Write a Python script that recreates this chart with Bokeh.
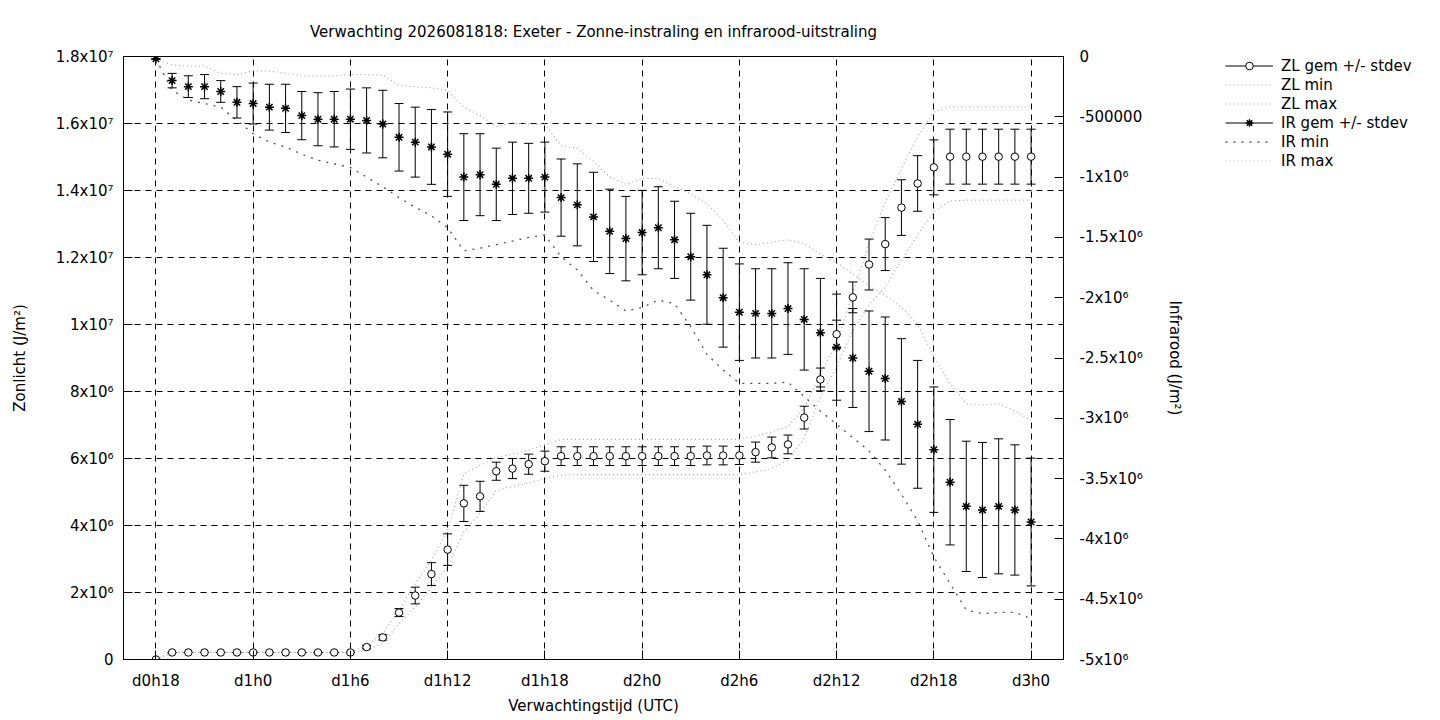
from bokeh.plotting import figure
from bokeh.layouts import row
from bokeh.models import (ColumnDataSource, LinearAxis, Range1d, FixedTicker,
                          Legend, LegendItem)
from bokeh.embed import file_html
from bokeh.resources import INLINE

# ---------------- data (values in units of 1e6 J/m2) ----------------
SCALE = 1e6
uren = list(range(55))  # forecast hour index, 0 = d0h18

x_tick_pos = [0, 6, 12, 18, 24, 30, 36, 42, 48, 54]
x_tick_labels = ["d0h18", "d1h0", "d1h6", "d1h12", "d1h18",
                 "d2h0", "d2h6", "d2h12", "d2h18", "d3h0"]

zl_tick_pos = [0, 2000000, 4000000, 6000000, 8000000, 10000000,
               12000000, 14000000, 16000000, 18000000]
zl_tick_labels = ["0", "2x10\u2076", "4x10\u2076", "6x10\u2076", "8x10\u2076",
                  "1x10\u2077", "1.2x10\u2077", "1.4x10\u2077", "1.6x10\u2077",
                  "1.8x10\u2077"]

ir_tick_pos = [0, -500000, -1000000, -1500000, -2000000, -2500000,
               -3000000, -3500000, -4000000, -4500000, -5000000]
ir_tick_labels = ["0", "-500000", "-1x10\u2076", "-1.5x10\u2076", "-2x10\u2076",
                  "-2.5x10\u2076", "-3x10\u2076", "-3.5x10\u2076", "-4x10\u2076",
                  "-4.5x10\u2076", "-5x10\u2076"]

zl_gem = [0.00,
          0.21, 0.21, 0.21, 0.21, 0.21, 0.21, 0.21, 0.21, 0.21, 0.21, 0.21, 0.21,
          0.37, 0.66, 1.40, 1.91, 2.55, 3.28, 4.66, 4.87, 5.62, 5.70, 5.83, 5.92,
          6.07, 6.07, 6.07, 6.07, 6.07, 6.07, 6.07, 6.07, 6.07, 6.09, 6.09, 6.09,
          6.19, 6.33, 6.42, 7.22, 8.36, 9.71, 10.81, 11.79, 12.40, 13.49, 14.21, 14.69,
          15.01, 15.01, 15.01, 15.01, 15.01, 15.01]
zl_sd = [0.00,
         0.00, 0.00, 0.00, 0.00, 0.00, 0.00, 0.00, 0.00, 0.00, 0.00, 0.00, 0.00,
         0.05, 0.08, 0.12, 0.25, 0.34, 0.47, 0.54, 0.45, 0.27, 0.30, 0.30, 0.30,
         0.28, 0.28, 0.28, 0.28, 0.28, 0.28, 0.28, 0.28, 0.28, 0.28, 0.28, 0.27,
         0.30, 0.31, 0.28, 0.34, 0.34, 0.42, 0.46, 0.76, 0.79, 0.83, 0.83, 0.82,
         0.82, 0.82, 0.82, 0.82, 0.82, 0.82]
zl_min = [0.00,
          0.21, 0.21, 0.21, 0.21, 0.21, 0.21, 0.21, 0.21, 0.21, 0.21, 0.21, 0.21,
          0.28, 0.48, 1.07, 1.57, 2.15, 2.76, 3.81, 4.36, 5.05, 5.17, 5.27, 5.40,
          5.50, 5.52, 5.52, 5.52, 5.52, 5.52, 5.52, 5.52, 5.52, 5.52, 5.52, 5.52,
          5.60, 5.70, 5.95, 6.60, 7.84, 8.73, 9.83, 10.58, 11.12, 11.92, 12.67, 13.36,
          13.69, 13.71, 13.71, 13.71, 13.71, 13.71]
zl_max = [0.00,
          0.21, 0.21, 0.21, 0.21, 0.21, 0.21, 0.21, 0.21, 0.21, 0.21, 0.21, 0.21,
          0.43, 0.78, 1.47, 2.27, 2.96, 3.86, 5.55, 5.80, 6.03, 6.13, 6.25, 6.40,
          6.57, 6.57, 6.57, 6.57, 6.57, 6.57, 6.57, 6.57, 6.57, 6.57, 6.57, 6.57,
          6.67, 6.79, 6.96, 7.50, 8.54, 9.43, 10.93, 12.42, 13.65, 14.65, 15.60, 16.35,
          16.50, 16.50, 16.50, 16.50, 16.50, 16.50]

ir_gem = [-0.02,
          -0.20, -0.25, -0.25, -0.29, -0.38, -0.39, -0.42, -0.43, -0.49, -0.52, -0.52, -0.52,
          -0.53, -0.56, -0.67, -0.71, -0.75, -0.81, -1.00, -0.98, -1.06, -1.01, -1.01, -1.00,
          -1.17, -1.23, -1.33, -1.45, -1.51, -1.46, -1.42, -1.52, -1.66, -1.81, -2.00, -2.12,
          -2.13, -2.13, -2.09, -2.18, -2.29, -2.41, -2.50, -2.61, -2.67, -2.86, -3.05, -3.26,
          -3.53, -3.73, -3.76, -3.73, -3.76, -3.86]
ir_sd = [0.00,
         0.06, 0.09, 0.10, 0.09, 0.13, 0.17, 0.19, 0.20, 0.20, 0.22, 0.23, 0.25,
         0.27, 0.28, 0.28, 0.29, 0.31, 0.35, 0.36, 0.34, 0.30, 0.30, 0.29, 0.29,
         0.32, 0.34, 0.37, 0.35, 0.35, 0.35, 0.34, 0.32, 0.36, 0.41, 0.41, 0.40,
         0.37, 0.37, 0.38, 0.42, 0.45, 0.44, 0.41, 0.50, 0.51, 0.52, 0.53, 0.52,
         0.52, 0.54, 0.56, 0.56, 0.54, 0.53]
ir_min = [-0.02,
          -0.28, -0.36, -0.39, -0.42, -0.53, -0.64, -0.71, -0.75, -0.81, -0.86, -0.89, -0.92,
          -1.00, -1.08, -1.17, -1.25, -1.32, -1.42, -1.61, -1.59, -1.56, -1.53, -1.50, -1.48,
          -1.66, -1.77, -1.94, -2.02, -2.11, -2.08, -2.02, -2.05, -2.24, -2.47, -2.60, -2.71,
          -2.71, -2.71, -2.70, -2.82, -2.94, -3.05, -3.16, -3.27, -3.43, -3.63, -3.85, -4.15,
          -4.37, -4.59, -4.62, -4.61, -4.61, -4.66]
ir_max = [-0.02,
          -0.07, -0.08, -0.08, -0.14, -0.15, -0.12, -0.12, -0.14, -0.16, -0.16, -0.16, -0.15,
          -0.15, -0.155, -0.24, -0.25, -0.26, -0.28, -0.42, -0.49, -0.58, -0.55, -0.56, -0.56,
          -0.74, -0.76, -0.87, -1.00, -1.06, -1.01, -1.01, -1.08, -1.14, -1.22, -1.36, -1.54,
          -1.56, -1.54, -1.52, -1.55, -1.64, -1.71, -1.80, -1.90, -1.98, -2.08, -2.22, -2.49,
          -2.71, -2.88, -2.89, -2.88, -2.94, -3.02]

legend_labels = ["ZL gem +/- stdev", "ZL min", "ZL max",
                 "IR gem +/- stdev", "IR min", "IR max"]

# ---------------- sources ----------------
def mk_source(gem, sd, mn, mx):
    return ColumnDataSource(dict(
        x=uren,
        gem=[g * SCALE for g in gem],
        lo=[(g - s) * SCALE for g, s in zip(gem, sd)],
        hi=[(g + s) * SCALE for g, s in zip(gem, sd)],
        mn=[v * SCALE for v in mn],
        mx=[v * SCALE for v in mx],
    ))

src_zl = mk_source(zl_gem, zl_sd, zl_min, zl_max)
src_ir = mk_source(ir_gem, ir_sd, ir_min, ir_max)

FONT = "DejaVu Sans"
FS = "15px"
LIGHT = "#a8a8a8"
DARK = "#555555"

p = figure(frame_width=940, frame_height=603,
           x_range=Range1d(-2, 56), y_range=Range1d(0, 18000000),
           output_backend="svg", toolbar_location=None,
           min_border_left=123, min_border_top=56, min_border_bottom=57,
           min_border_right=140,
           background_fill_color="white", border_fill_color="white")
p.extra_y_ranges = {"ir": Range1d(-5000000, 0)}

p.title.text = "Verwachting 2026081818: Exeter - Zonne-instraling en infrarood-uitstraling"
p.title.align = "center"
p.title.text_font = FONT
p.title.text_font_size = FS
p.title.text_font_style = "normal"
p.title.text_color = "black"
p.title.standoff = 31

p.outline_line_color = "black"
p.outline_line_width = 1
p.outline_line_alpha = 1

# grid
p.xgrid.ticker = FixedTicker(ticks=x_tick_pos)
p.ygrid.ticker = FixedTicker(ticks=zl_tick_pos)
for g in (p.xgrid, p.ygrid):
    g.grid_line_color = "black"
    g.grid_line_dash = "6 5"
    g.grid_line_width = 1

def style_axis(ax):
    ax.axis_line_color = "black"
    ax.major_tick_line_color = "black"
    ax.major_tick_in = 9
    ax.major_tick_out = 0
    ax.minor_tick_line_color = None
    ax.major_label_text_font = FONT
    ax.major_label_text_font_size = FS
    ax.major_label_text_color = "black"
    ax.axis_label_text_font = FONT
    ax.axis_label_text_font_size = FS
    ax.axis_label_text_font_style = "normal"
    ax.axis_label_text_color = "black"

xax = p.xaxis[0]
xax.ticker = FixedTicker(ticks=x_tick_pos)
xax.major_label_overrides = {t: l for t, l in zip(x_tick_pos, x_tick_labels)}
xax.axis_label = "Verwachtingstijd (UTC)"
style_axis(xax)
xax.major_label_standoff = 12
xax.axis_label_standoff = 4

yax = p.yaxis[0]
yax.ticker = FixedTicker(ticks=zl_tick_pos)
yax.major_label_overrides = {t: l for t, l in zip(zl_tick_pos, zl_tick_labels)}
yax.axis_label = "Zonlicht (J/m\u00b2)"
style_axis(yax)
yax.major_label_standoff = 10
yax.axis_label_standoff = 24

rax = LinearAxis(y_range_name="ir", ticker=FixedTicker(ticks=ir_tick_pos),
                 axis_label="Infrarood (J/m\u00b2)")
rax.major_label_overrides = {t: l for t, l in zip(ir_tick_pos, ir_tick_labels)}
style_axis(rax)
rax.major_label_standoff = 16
rax.axis_label_standoff = 20
p.add_layout(rax, "right")

# min / max lines
zl_min_kw = dict(line_color=LIGHT, line_dash="1 3", line_width=1.2)
ir_min_kw = dict(line_color=DARK, line_dash="2 6", line_width=1.3)
p.line("x", "mn", source=src_zl, **zl_min_kw)
p.line("x", "mx", source=src_zl, **zl_min_kw)
p.line("x", "mn", source=src_ir, y_range_name="ir", **ir_min_kw)
p.line("x", "mx", source=src_ir, y_range_name="ir", **zl_min_kw)

# IR error bars + points
p.segment(x0="x", y0="lo", x1="x", y1="hi", source=src_ir, y_range_name="ir",
          line_color="black", line_width=1)
p.scatter("x", "lo", source=src_ir, y_range_name="ir", marker="dash", size=9,
          line_color="black", line_width=1)
p.scatter("x", "hi", source=src_ir, y_range_name="ir", marker="dash", size=9,
          line_color="black", line_width=1)
ast_kw = dict(marker="asterisk", size=9, line_color="black", line_width=1.5)
p.scatter("x", "gem", source=src_ir, y_range_name="ir", **ast_kw)

# ZL error bars + points
p.segment(x0="x", y0="lo", x1="x", y1="hi", source=src_zl,
          line_color="black", line_width=1)
p.scatter("x", "lo", source=src_zl, marker="dash", size=9, line_color="black", line_width=1)
p.scatter("x", "hi", source=src_zl, marker="dash", size=9, line_color="black", line_width=1)
circ_kw = dict(marker="circle", size=7.5, fill_color="white", line_color="black", line_width=1)
p.scatter("x", "gem", source=src_zl, **circ_kw)

# ---------------- legend panel (key samples only) ----------------
leg = figure(frame_width=230, frame_height=603, x_range=Range1d(0, 1), y_range=Range1d(0, 1),
             output_backend="svg", toolbar_location=None,
             x_axis_location=None, y_axis_location=None,
             min_border_left=0, min_border_right=0, min_border_top=56, min_border_bottom=57,
             background_fill_color="white", border_fill_color="white")
leg.grid.visible = False
leg.outline_line_color = None
# one non-drawable (NaN) row so the legend keys have something to style from
key_src = ColumnDataSource(dict(x=[float("nan")], y=[float("nan")]))
k_zl_seg = leg.line("x", "y", source=key_src, line_color="black", line_width=1)
k_zl_pt = leg.scatter("x", "y", source=key_src, **circ_kw)
k_zl_min = leg.line("x", "y", source=key_src, **zl_min_kw)
k_zl_max = leg.line("x", "y", source=key_src, **zl_min_kw)
k_ir_seg = leg.line("x", "y", source=key_src, line_color="black", line_width=1)
k_ir_pt = leg.scatter("x", "y", source=key_src, **ast_kw)
k_ir_min = leg.line("x", "y", source=key_src, **ir_min_kw)
k_ir_max = leg.line("x", "y", source=key_src, **zl_min_kw)

legend = Legend(items=[
    LegendItem(label=legend_labels[0], renderers=[k_zl_seg, k_zl_pt]),
    LegendItem(label=legend_labels[1], renderers=[k_zl_min]),
    LegendItem(label=legend_labels[2], renderers=[k_zl_max]),
    LegendItem(label=legend_labels[3], renderers=[k_ir_seg, k_ir_pt]),
    LegendItem(label=legend_labels[4], renderers=[k_ir_min]),
    LegendItem(label=legend_labels[5], renderers=[k_ir_max]),
], location=(22, 603 - 6 * 19), border_line_color=None, background_fill_alpha=0,
   label_text_font=FONT, label_text_font_size=FS, label_text_color="black",
   glyph_width=48, glyph_height=19, label_height=19, spacing=0, padding=0, margin=0,
   label_standoff=8)
leg.add_layout(legend, "center")

layout = row(p, leg, spacing=0)
open("out.html", "w").write(file_html(layout, INLINE))
